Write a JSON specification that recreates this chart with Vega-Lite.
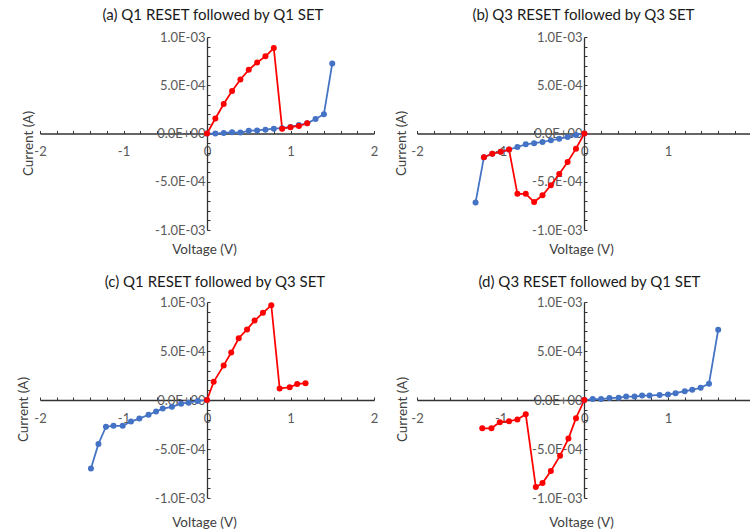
{
  "$schema": "https://vega.github.io/schema/vega-lite/v6.json",
  "background": "white",
  "padding": {"left": 16, "top": 8, "right": 0, "bottom": 0},
  "config": {
    "view": {"stroke": null},
    "font": "Lato",
    "title": {"font": "Lato", "fontSize": 15, "fontWeight": "normal", "color": "#1a1a1a", "anchor": "middle"},
    "axis": {
      "grid": false,
      "domainColor": "#333333",
      "domainWidth": 1.3,
      "tickColor": "#333333",
      "tickSize": -3,
      "tickWidth": 1,
      "labelColor": "#595959",
      "labelFont": "Lato",
      "labelFontSize": 13,
      "labelFlush": false,
      "labelOverlap": false,
      "labelBound": false,
      "titleColor": "#404040",
      "titleFont": "Lato",
      "titleFontSize": 13.5,
      "titleFontWeight": "normal"
    },
    "axisX": {"labelPadding": 15},
    "axisY": {"labelPadding": 5}
  },
  "datasets": {
    "iv": [
      {"p":"a","s":"SET","i":0,"v":0,"c":0},
      {"p":"a","s":"SET","i":1,"v":0.1,"c":0},
      {"p":"a","s":"SET","i":2,"v":0.2,"c":0.000006},
      {"p":"a","s":"SET","i":3,"v":0.3,"c":0.000012},
      {"p":"a","s":"SET","i":4,"v":0.4,"c":0.00001},
      {"p":"a","s":"SET","i":5,"v":0.5,"c":0.000028},
      {"p":"a","s":"SET","i":6,"v":0.6,"c":0.000032},
      {"p":"a","s":"SET","i":7,"v":0.7,"c":0.00004},
      {"p":"a","s":"SET","i":8,"v":0.8,"c":0.00005},
      {"p":"a","s":"SET","i":9,"v":0.9,"c":0.000055},
      {"p":"a","s":"SET","i":10,"v":1.0,"c":0.000068},
      {"p":"a","s":"SET","i":11,"v":1.1,"c":0.000088},
      {"p":"a","s":"SET","i":12,"v":1.2,"c":0.000105},
      {"p":"a","s":"SET","i":13,"v":1.3,"c":0.00015},
      {"p":"a","s":"SET","i":14,"v":1.4,"c":0.0002},
      {"p":"a","s":"SET","i":15,"v":1.5,"c":0.000725},
      {"p":"a","s":"RESET","i":0,"v":0,"c":0},
      {"p":"a","s":"RESET","i":1,"v":0.1,"c":0.000155},
      {"p":"a","s":"RESET","i":2,"v":0.2,"c":0.000305},
      {"p":"a","s":"RESET","i":3,"v":0.3,"c":0.00044},
      {"p":"a","s":"RESET","i":4,"v":0.4,"c":0.00056},
      {"p":"a","s":"RESET","i":5,"v":0.5,"c":0.00066},
      {"p":"a","s":"RESET","i":6,"v":0.6,"c":0.000735},
      {"p":"a","s":"RESET","i":7,"v":0.7,"c":0.0008},
      {"p":"a","s":"RESET","i":8,"v":0.8,"c":0.000885},
      {"p":"a","s":"RESET","i":9,"v":0.9,"c":0.00005},
      {"p":"a","s":"RESET","i":10,"v":1.0,"c":0.000065},
      {"p":"a","s":"RESET","i":11,"v":1.1,"c":0.000078},
      {"p":"a","s":"RESET","i":12,"v":1.2,"c":0.000105},

      {"p":"b","s":"SET","i":0,"v":0,"c":0},
      {"p":"b","s":"SET","i":1,"v":-0.1,"c":-0.000015},
      {"p":"b","s":"SET","i":2,"v":-0.2,"c":-0.000035},
      {"p":"b","s":"SET","i":3,"v":-0.3,"c":-0.000055},
      {"p":"b","s":"SET","i":4,"v":-0.4,"c":-0.00007},
      {"p":"b","s":"SET","i":5,"v":-0.5,"c":-0.000088},
      {"p":"b","s":"SET","i":6,"v":-0.6,"c":-0.0001},
      {"p":"b","s":"SET","i":7,"v":-0.7,"c":-0.000112},
      {"p":"b","s":"SET","i":8,"v":-0.8,"c":-0.00014},
      {"p":"b","s":"SET","i":9,"v":-0.9,"c":-0.000167},
      {"p":"b","s":"SET","i":10,"v":-1.0,"c":-0.00019},
      {"p":"b","s":"SET","i":11,"v":-1.1,"c":-0.00021},
      {"p":"b","s":"SET","i":12,"v":-1.2,"c":-0.000245},
      {"p":"b","s":"SET","i":13,"v":-1.3,"c":-0.000715},
      {"p":"b","s":"RESET","i":0,"v":0,"c":0},
      {"p":"b","s":"RESET","i":1,"v":-0.1,"c":-0.000157},
      {"p":"b","s":"RESET","i":2,"v":-0.2,"c":-0.000296},
      {"p":"b","s":"RESET","i":3,"v":-0.3,"c":-0.00042},
      {"p":"b","s":"RESET","i":4,"v":-0.4,"c":-0.000537},
      {"p":"b","s":"RESET","i":5,"v":-0.5,"c":-0.00064},
      {"p":"b","s":"RESET","i":6,"v":-0.6,"c":-0.00071},
      {"p":"b","s":"RESET","i":7,"v":-0.7,"c":-0.000625},
      {"p":"b","s":"RESET","i":8,"v":-0.8,"c":-0.000625},
      {"p":"b","s":"RESET","i":9,"v":-0.9,"c":-0.000167},
      {"p":"b","s":"RESET","i":10,"v":-1.0,"c":-0.00019},
      {"p":"b","s":"RESET","i":11,"v":-1.1,"c":-0.00021},
      {"p":"b","s":"RESET","i":12,"v":-1.2,"c":-0.000245},

      {"p":"c","s":"SET","i":0,"v":0,"c":0},
      {"p":"c","s":"SET","i":1,"v":-0.11,"c":-0.00001},
      {"p":"c","s":"SET","i":2,"v":-0.22,"c":-0.000027},
      {"p":"c","s":"SET","i":3,"v":-0.31,"c":-0.000037},
      {"p":"c","s":"SET","i":4,"v":-0.42,"c":-0.00007},
      {"p":"c","s":"SET","i":5,"v":-0.53,"c":-0.000088},
      {"p":"c","s":"SET","i":6,"v":-0.61,"c":-0.000118},
      {"p":"c","s":"SET","i":7,"v":-0.7,"c":-0.00015},
      {"p":"c","s":"SET","i":8,"v":-0.81,"c":-0.00019},
      {"p":"c","s":"SET","i":9,"v":-0.91,"c":-0.00022},
      {"p":"c","s":"SET","i":10,"v":-1.01,"c":-0.000263},
      {"p":"c","s":"SET","i":11,"v":-1.12,"c":-0.000263},
      {"p":"c","s":"SET","i":12,"v":-1.21,"c":-0.000273},
      {"p":"c","s":"SET","i":13,"v":-1.3,"c":-0.000448},
      {"p":"c","s":"SET","i":14,"v":-1.39,"c":-0.0007},
      {"p":"c","s":"RESET","i":0,"v":0,"c":0},
      {"p":"c","s":"RESET","i":1,"v":0.08,"c":0.000185},
      {"p":"c","s":"RESET","i":2,"v":0.2,"c":0.000353},
      {"p":"c","s":"RESET","i":3,"v":0.29,"c":0.000485},
      {"p":"c","s":"RESET","i":4,"v":0.38,"c":0.00063},
      {"p":"c","s":"RESET","i":5,"v":0.48,"c":0.00072},
      {"p":"c","s":"RESET","i":6,"v":0.57,"c":0.00081},
      {"p":"c","s":"RESET","i":7,"v":0.67,"c":0.00089},
      {"p":"c","s":"RESET","i":8,"v":0.77,"c":0.000967},
      {"p":"c","s":"RESET","i":9,"v":0.87,"c":0.000118},
      {"p":"c","s":"RESET","i":10,"v":0.99,"c":0.00013},
      {"p":"c","s":"RESET","i":11,"v":1.08,"c":0.000162},
      {"p":"c","s":"RESET","i":12,"v":1.18,"c":0.000172},

      {"p":"d","s":"SET","i":0,"v":0,"c":0},
      {"p":"d","s":"SET","i":1,"v":0.1,"c":0.00001},
      {"p":"d","s":"SET","i":2,"v":0.2,"c":0.00001},
      {"p":"d","s":"SET","i":3,"v":0.3,"c":0.00002},
      {"p":"d","s":"SET","i":4,"v":0.41,"c":0.000024},
      {"p":"d","s":"SET","i":5,"v":0.5,"c":0.000035},
      {"p":"d","s":"SET","i":6,"v":0.6,"c":0.000035},
      {"p":"d","s":"SET","i":7,"v":0.69,"c":0.000045},
      {"p":"d","s":"SET","i":8,"v":0.78,"c":0.000045},
      {"p":"d","s":"SET","i":9,"v":0.9,"c":0.000052},
      {"p":"d","s":"SET","i":10,"v":1.0,"c":0.000056},
      {"p":"d","s":"SET","i":11,"v":1.09,"c":0.00007},
      {"p":"d","s":"SET","i":12,"v":1.2,"c":0.00009},
      {"p":"d","s":"SET","i":13,"v":1.29,"c":0.000104},
      {"p":"d","s":"SET","i":14,"v":1.39,"c":0.000125},
      {"p":"d","s":"SET","i":15,"v":1.49,"c":0.000167},
      {"p":"d","s":"SET","i":16,"v":1.6,"c":0.000717},
      {"p":"d","s":"RESET","i":0,"v":0,"c":0},
      {"p":"d","s":"RESET","i":1,"v":-0.1,"c":-0.000185},
      {"p":"d","s":"RESET","i":2,"v":-0.19,"c":-0.000394},
      {"p":"d","s":"RESET","i":3,"v":-0.29,"c":-0.000568},
      {"p":"d","s":"RESET","i":4,"v":-0.4,"c":-0.000725},
      {"p":"d","s":"RESET","i":5,"v":-0.5,"c":-0.000847},
      {"p":"d","s":"RESET","i":6,"v":-0.58,"c":-0.000889},
      {"p":"d","s":"RESET","i":7,"v":-0.7,"c":-0.000146},
      {"p":"d","s":"RESET","i":8,"v":-0.8,"c":-0.000199},
      {"p":"d","s":"RESET","i":9,"v":-0.9,"c":-0.000216},
      {"p":"d","s":"RESET","i":10,"v":-1.01,"c":-0.000226},
      {"p":"d","s":"RESET","i":11,"v":-1.11,"c":-0.000289},
      {"p":"d","s":"RESET","i":12,"v":-1.22,"c":-0.000289}
    ]
  },
  "columns": 2,
  "spacing": {"row": 72, "column": 43},
  "bounds": "flush",
  "concat": [
    {
      "width": 334, "height": 193,
      "title": {"text": "(a) Q1 RESET followed by Q1 SET", "dx": 6, "offset": 8},
      "data": {"name": "iv"},
      "transform": [{"filter": "datum.p == 'a'"}],
      "encoding": {
        "x": {"field": "v", "type": "quantitative", "scale": {"domain": [-2, 2], "nice": false, "zero": false},
              "axis": {"offset": -96.5, "title": "Voltage (V)", "titleX": 164, "titleY": 109,
                       "values": [-2,-1.8,-1.6,-1.4,-1.2,-1,-0.8,-0.6,-0.4,-0.2,0,0.2,0.4,0.6,0.8,1,1.2,1.4,1.6,1.8,2],
                       "labelExpr": "abs(datum.value - round(datum.value)) < 0.001 ? toString(round(datum.value)) : ''"}},
        "y": {"field": "c", "type": "quantitative", "scale": {"domain": [-0.001, 0.001], "nice": false},
              "axis": {"offset": -167, "title": "Current (A)", "titleX": -172, "titleY": 106,
                       "values": [-0.001,-0.0009,-0.0008,-0.0007,-0.0006,-0.0005,-0.0004,-0.0003,-0.0002,-0.0001,0,0.0001,0.0002,0.0003,0.0004,0.0005,0.0006,0.0007,0.0008,0.0009,0.001],
                       "labelExpr": "abs(datum.value - 0.001) < 1e-9 ? '1.0E-03' : abs(datum.value - 0.0005) < 1e-9 ? '5.0E-04' : abs(datum.value) < 1e-9 ? '0.0E+00' : abs(datum.value + 0.0005) < 1e-9 ? '-5.0E-04' : abs(datum.value + 0.001) < 1e-9 ? '-1.0E-03' : ''"}},
        "color": {"field": "s", "type": "nominal", "scale": {"domain": ["SET", "RESET"], "range": ["#4472C4", "#FF0000"]}, "legend": null}
      },
      "layer": [
        {"mark": {"type": "line", "strokeWidth": 1.75}, "encoding": {"order": {"field": "i", "type": "quantitative"}}},
        {"mark": {"type": "point", "filled": true, "size": 36, "opacity": 1}}
      ]
    },
    {
      "width": 333, "height": 193,
      "title": {"text": "(b) Q3 RESET followed by Q3 SET", "dx": 0, "offset": 8},
      "data": {"name": "iv"},
      "transform": [{"filter": "datum.p == 'b'"}],
      "encoding": {
        "x": {"field": "v", "type": "quantitative", "scale": {"domain": [-2, 1.98], "nice": false, "zero": false},
              "axis": {"offset": -96.5, "title": "Voltage (V)", "titleX": 164, "titleY": 109,
                       "values": [-2,-1.8,-1.6,-1.4,-1.2,-1,-0.8,-0.6,-0.4,-0.2,0,0.2,0.4,0.6,0.8,1,1.2,1.4,1.6,1.8],
                       "labelExpr": "abs(datum.value - round(datum.value)) < 0.001 ? toString(round(datum.value)) : ''"}},
        "y": {"field": "c", "type": "quantitative", "scale": {"domain": [-0.001, 0.001], "nice": false},
              "axis": {"offset": -167, "title": "Current (A)", "titleX": -176, "titleY": 106,
                       "values": [-0.001,-0.0009,-0.0008,-0.0007,-0.0006,-0.0005,-0.0004,-0.0003,-0.0002,-0.0001,0,0.0001,0.0002,0.0003,0.0004,0.0005,0.0006,0.0007,0.0008,0.0009,0.001],
                       "labelExpr": "abs(datum.value - 0.001) < 1e-9 ? '1.0E-03' : abs(datum.value - 0.0005) < 1e-9 ? '5.0E-04' : abs(datum.value) < 1e-9 ? '0.0E+00' : abs(datum.value + 0.0005) < 1e-9 ? '-5.0E-04' : abs(datum.value + 0.001) < 1e-9 ? '-1.0E-03' : ''"}},
        "color": {"field": "s", "type": "nominal", "scale": {"domain": ["SET", "RESET"], "range": ["#4472C4", "#FF0000"]}, "legend": null}
      },
      "layer": [
        {"mark": {"type": "line", "strokeWidth": 1.75}, "encoding": {"order": {"field": "i", "type": "quantitative"}}},
        {"mark": {"type": "point", "filled": true, "size": 36, "opacity": 1}}
      ]
    },
    {
      "width": 334, "height": 196,
      "title": {"text": "(c) Q1 RESET followed by Q3 SET", "dx": 8, "offset": 6},
      "data": {"name": "iv"},
      "transform": [{"filter": "datum.p == 'c'"}],
      "encoding": {
        "x": {"field": "v", "type": "quantitative", "scale": {"domain": [-2, 2], "nice": false, "zero": false},
              "axis": {"offset": -98, "title": "Voltage (V)", "titleX": 164, "titleY": 115,
                       "values": [-2,-1.8,-1.6,-1.4,-1.2,-1,-0.8,-0.6,-0.4,-0.2,0,0.2,0.4,0.6,0.8,1,1.2,1.4,1.6,1.8,2],
                       "labelExpr": "abs(datum.value - round(datum.value)) < 0.001 ? toString(round(datum.value)) : ''"}},
        "y": {"field": "c", "type": "quantitative", "scale": {"domain": [-0.001, 0.001], "nice": false},
              "axis": {"offset": -167, "title": "Current (A)", "titleX": -177, "titleY": 107,
                       "values": [-0.001,-0.0009,-0.0008,-0.0007,-0.0006,-0.0005,-0.0004,-0.0003,-0.0002,-0.0001,0,0.0001,0.0002,0.0003,0.0004,0.0005,0.0006,0.0007,0.0008,0.0009,0.001],
                       "labelExpr": "abs(datum.value - 0.001) < 1e-9 ? '1.0E-03' : abs(datum.value - 0.0005) < 1e-9 ? '5.0E-04' : abs(datum.value) < 1e-9 ? '0.0E+00' : abs(datum.value + 0.0005) < 1e-9 ? '-5.0E-04' : abs(datum.value + 0.001) < 1e-9 ? '-1.0E-03' : ''"}},
        "color": {"field": "s", "type": "nominal", "scale": {"domain": ["SET", "RESET"], "range": ["#4472C4", "#FF0000"]}, "legend": null}
      },
      "layer": [
        {"mark": {"type": "line", "strokeWidth": 1.75}, "encoding": {"order": {"field": "i", "type": "quantitative"}}},
        {"mark": {"type": "point", "filled": true, "size": 36, "opacity": 1}}
      ]
    },
    {
      "width": 333, "height": 196,
      "title": {"text": "(d) Q3 RESET followed by Q1 SET", "dx": 6, "offset": 6},
      "data": {"name": "iv"},
      "transform": [{"filter": "datum.p == 'd'"}],
      "encoding": {
        "x": {"field": "v", "type": "quantitative", "scale": {"domain": [-2, 1.98], "nice": false, "zero": false},
              "axis": {"offset": -98, "title": "Voltage (V)", "titleX": 164, "titleY": 115,
                       "values": [-2,-1.8,-1.6,-1.4,-1.2,-1,-0.8,-0.6,-0.4,-0.2,0,0.2,0.4,0.6,0.8,1,1.2,1.4,1.6,1.8],
                       "labelExpr": "abs(datum.value - round(datum.value)) < 0.001 ? toString(round(datum.value)) : ''"}},
        "y": {"field": "c", "type": "quantitative", "scale": {"domain": [-0.001, 0.001], "nice": false},
              "axis": {"offset": -167, "title": "Current (A)", "titleX": -175, "titleY": 107,
                       "values": [-0.001,-0.0009,-0.0008,-0.0007,-0.0006,-0.0005,-0.0004,-0.0003,-0.0002,-0.0001,0,0.0001,0.0002,0.0003,0.0004,0.0005,0.0006,0.0007,0.0008,0.0009,0.001],
                       "labelExpr": "abs(datum.value - 0.001) < 1e-9 ? '1.0E-03' : abs(datum.value - 0.0005) < 1e-9 ? '5.0E-04' : abs(datum.value) < 1e-9 ? '0.0E+00' : abs(datum.value + 0.0005) < 1e-9 ? '-5.0E-04' : abs(datum.value + 0.001) < 1e-9 ? '-1.0E-03' : ''"}},
        "color": {"field": "s", "type": "nominal", "scale": {"domain": ["SET", "RESET"], "range": ["#4472C4", "#FF0000"]}, "legend": null}
      },
      "layer": [
        {"mark": {"type": "line", "strokeWidth": 1.75}, "encoding": {"order": {"field": "i", "type": "quantitative"}}},
        {"mark": {"type": "point", "filled": true, "size": 36, "opacity": 1}}
      ]
    }
  ]
}
